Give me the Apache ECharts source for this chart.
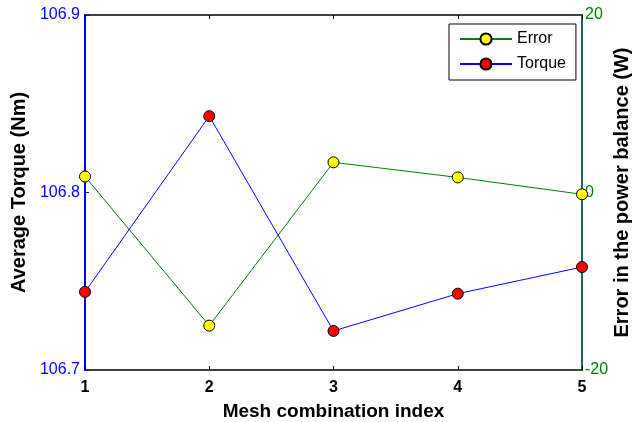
<!DOCTYPE html>
<html>
<head>
<meta charset="utf-8">
<script src="https://cdn.jsdelivr.net/npm/echarts@6/dist/echarts.min.js"></script>
<style>
  html, body { margin: 0; padding: 0; background: #fff; }
  #chart { width: 633px; height: 422px; }
</style>
</head>
<body>
<div id="chart"></div>
<script>
// mesh combination index
var meshIndex = [1, 2, 3, 4, 5];
// average torque (Nm), left axis
var torque = [106.744, 106.843, 106.722, 106.743, 106.758];
// error in the power balance (W), right axis
var powerError = [1.8, -15.0, 3.4, 1.7, -0.2];

var font = 'Liberation Sans, Arial, sans-serif';

var mychart = echarts.init(document.getElementById('chart'));

function pairs(ys) {
  return meshIndex.map(function (x, i) { return [x, ys[i]]; });
}

var option = {
  animation: false,
  textStyle: { fontFamily: font },
  grid: { left: 85, right: 51, top: 15, bottom: 52, containLabel: false, outerBoundsMode: 'none' },
  legend: {
    orient: 'vertical',
    left: 449,
    top: 24,
    padding: [7, 10, 8, 10],
    itemGap: 9,
    itemWidth: 52,
    itemHeight: 14,
    backgroundColor: '#fff',
    borderColor: '#000',
    borderWidth: 1,
    textStyle: { color: '#000', fontSize: 16, fontFamily: font },
    data: ['Error', 'Torque']
  },
  xAxis: [{
    type: 'value',
    min: 1,
    max: 5,
    interval: 1,
    name: 'Mesh combination index',
    nameLocation: 'middle',
    nameGap: 32,
    nameMoveOverlap: false,
    nameTextStyle: { color: '#000', fontSize: 19, fontWeight: 'bold', fontFamily: font },
    axisLine: { onZero: false, lineStyle: { color: '#000', width: 1.5 } },
    axisTick: { inside: true, length: 4, lineStyle: { color: '#000' } },
    axisLabel: { color: '#000', fontSize: 16, fontWeight: 'bold', margin: 10, fontFamily: font },
    splitLine: { show: false }
  }, {
    type: 'value',
    position: 'top',
    min: 1,
    max: 5,
    interval: 1,
    axisLine: { show: true, onZero: false, lineStyle: { color: '#000', width: 1.5 } },
    axisTick: { inside: true, length: 4, lineStyle: { color: '#000' } },
    axisLabel: { show: false },
    splitLine: { show: false }
  }],
  yAxis: [{
    type: 'value',
    position: 'left',
    min: 106.7,
    max: 106.9,
    interval: 0.1,
    name: 'Average Torque (Nm)',
    nameLocation: 'middle',
    nameGap: 56,
    nameMoveOverlap: false,
    nameTextStyle: { color: '#000', fontSize: 20, fontWeight: 'bold', fontFamily: font },
    axisLine: { show: true, onZero: false, lineStyle: { color: '#0000ff', width: 2 } },
    axisTick: { show: true, inside: true, length: 4, lineStyle: { color: '#0000ff' } },
    axisLabel: {
      color: '#0000ff', fontSize: 16, margin: 5, fontFamily: font,
      formatter: function (v) { return v.toFixed(1); }
    },
    splitLine: { show: false }
  }, {
    type: 'value',
    position: 'right',
    min: -20,
    max: 20,
    interval: 20,
    name: 'Error in the power balance (W)',
    nameLocation: 'middle',
    nameGap: 30,
    nameMoveOverlap: false,
    nameTextStyle: { color: '#000', fontSize: 20, fontWeight: 'bold', fontFamily: font },
    axisLine: { show: true, onZero: false, lineStyle: { color: '#1f6464', width: 2 } },
    axisTick: { show: true, inside: true, length: 4, lineStyle: { color: '#008000' } },
    axisLabel: { color: '#008000', fontSize: 16, margin: 3, fontFamily: font },
    splitLine: { show: false }
  }],
  series: [{
    name: 'Error',
    type: 'line',
    yAxisIndex: 1,
    data: pairs(powerError),
    clip: false,
    symbol: 'circle',
    symbolSize: 11,
    lineStyle: { color: '#008000', width: 1 },
    itemStyle: { color: '#ffff00', borderColor: '#000', borderWidth: 1 },
    z: 3
  }, {
    name: 'Torque',
    type: 'line',
    yAxisIndex: 0,
    data: pairs(torque),
    clip: false,
    symbol: 'circle',
    symbolSize: 11,
    lineStyle: { color: '#0000ff', width: 1 },
    itemStyle: { color: '#ff0000', borderColor: '#000', borderWidth: 1 },
    z: 3
  }]
};

mychart.setOption(option);
</script>
</body>
</html>
